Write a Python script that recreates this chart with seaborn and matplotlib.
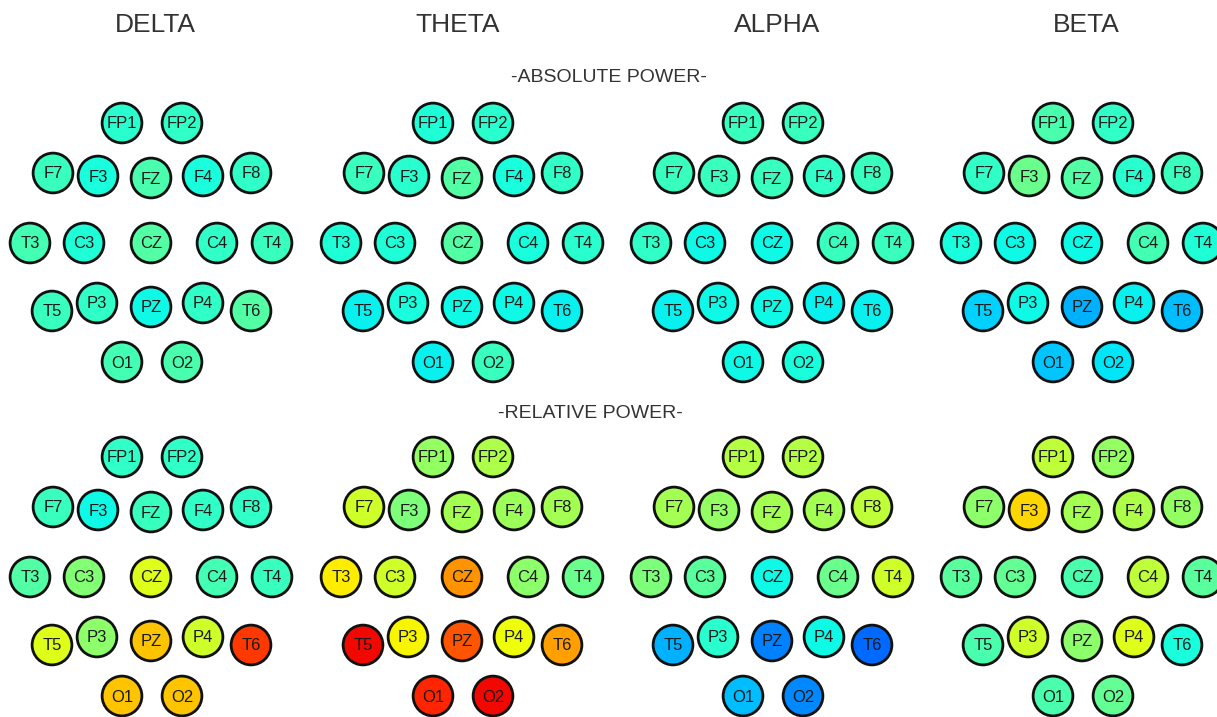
import numpy as np
import pandas as pd
import matplotlib
matplotlib.use('Agg')
import matplotlib.pyplot as plt
import seaborn as sns

# электроды системы 10-20
electrodes = ['FP1', 'FP2', 'F7', 'F3', 'FZ', 'F4', 'F8',
              'T3', 'C3', 'CZ', 'C4', 'T4',
              'T5', 'P3', 'PZ', 'P4', 'T6', 'O1', 'O2']

bands = ['DELTA', 'THETA', 'ALPHA', 'BETA']
power_types = ['-ABSOLUTE POWER-', '-RELATIVE POWER-']

# нормированная мощность (0..1), порядок как в electrodes
abs_delta = [0.40, 0.41, 0.42, 0.38, 0.44, 0.38, 0.41,
             0.43, 0.39, 0.45, 0.41, 0.42,
             0.42, 0.41, 0.37, 0.41, 0.45, 0.43, 0.44]
abs_theta = [0.39, 0.40, 0.42, 0.40, 0.45, 0.38, 0.41,
             0.39, 0.39, 0.45, 0.38, 0.40,
             0.36, 0.38, 0.37, 0.37, 0.36, 0.36, 0.42]
abs_alpha = [0.42, 0.42, 0.42, 0.42, 0.42, 0.41, 0.42,
             0.41, 0.37, 0.37, 0.42, 0.42,
             0.36, 0.37, 0.37, 0.36, 0.36, 0.37, 0.38]
abs_beta = [0.44, 0.41, 0.41, 0.48, 0.45, 0.40, 0.42,
            0.38, 0.37, 0.37, 0.43, 0.39,
            0.33, 0.37, 0.30, 0.36, 0.31, 0.32, 0.35]

rel_delta = [0.41, 0.41, 0.42, 0.37, 0.42, 0.41, 0.41,
             0.45, 0.51, 0.62, 0.43, 0.42,
             0.62, 0.52, 0.70, 0.60, 0.85, 0.70, 0.70]
rel_theta = [0.53, 0.56, 0.60, 0.50, 0.55, 0.54, 0.55,
             0.66, 0.60, 0.75, 0.52, 0.48,
             0.90, 0.65, 0.82, 0.64, 0.74, 0.87, 0.90]
rel_alpha = [0.57, 0.57, 0.55, 0.53, 0.55, 0.55, 0.58,
             0.50, 0.46, 0.37, 0.48, 0.60,
             0.30, 0.40, 0.25, 0.37, 0.23, 0.31, 0.26]
rel_beta = [0.58, 0.53, 0.52, 0.68, 0.55, 0.56, 0.53,
            0.46, 0.47, 0.44, 0.58, 0.46,
            0.44, 0.60, 0.52, 0.62, 0.38, 0.44, 0.47]

values = {
    ('-ABSOLUTE POWER-', 'DELTA'): abs_delta,
    ('-ABSOLUTE POWER-', 'THETA'): abs_theta,
    ('-ABSOLUTE POWER-', 'ALPHA'): abs_alpha,
    ('-ABSOLUTE POWER-', 'BETA'): abs_beta,
    ('-RELATIVE POWER-', 'DELTA'): rel_delta,
    ('-RELATIVE POWER-', 'THETA'): rel_theta,
    ('-RELATIVE POWER-', 'ALPHA'): rel_alpha,
    ('-RELATIVE POWER-', 'BETA'): rel_beta,
}

# раскладка электродов относительно CZ (пиксели)
montage = {
    'FP1': (-29, -120), 'FP2': (31, -120),
    'F7': (-98, -70), 'F3': (-53, -67), 'FZ': (0, -65), 'F4': (52, -67), 'F8': (100, -70),
    'T3': (-121, 0), 'C3': (-67, 0), 'CZ': (0, 0), 'C4': (66, 0), 'T4': (121, 0),
    'T5': (-99, 68), 'P3': (-54, 60), 'PZ': (0, 64), 'P4': (52, 60), 'T6': (100, 68),
    'O1': (-29, 119), 'O2': (31, 119),
}
col_x = {'DELTA': 151, 'THETA': 462, 'ALPHA': 772, 'BETA': 1082}
row_y = {'-ABSOLUTE POWER-': 243, '-RELATIVE POWER-': 577}

rows = []
for (ptype, band), vals in values.items():
    for el, v in zip(electrodes, vals):
        dx, dy = montage[el]
        rows.append({'power': ptype, 'band': band, 'electrode': el, 'value': v,
                     'x': col_x[band] + dx, 'y': row_y[ptype] + dy})
df = pd.DataFrame(rows)

fig = plt.figure(figsize=(12.17, 7.17), dpi=100)
ax = fig.add_axes([0, 0, 1, 1])

jet = matplotlib.colormaps['jet']
sns.scatterplot(data=df, x='x', y='y', hue='value', palette=jet, hue_norm=(0, 1),
                s=820, edgecolor='#111111', linewidth=2.0, legend=False, ax=ax)

lab_font = ['Liberation Sans', 'DejaVu Sans']
for _, r in df.iterrows():
    ax.text(r['x'], r['y'] + 1, r['electrode'], ha='center', va='center',
            fontsize=12, color='#1a1a1a', family=lab_font)

title_x = {'DELTA': 155, 'THETA': 458, 'ALPHA': 777, 'BETA': 1086}
for b in bands:
    ax.text(title_x[b], 25, b, ha='center', va='center', fontsize=19,
            color='#333333', family=lab_font)
ax.text(609, 77, power_types[0], ha='center', va='center', fontsize=14,
        color='#333333', family=lab_font)
ax.text(590, 413, power_types[1], ha='center', va='center', fontsize=14,
        color='#333333', family=lab_font)

ax.set_xlim(0, 1217)
ax.set_ylim(717, 0)
ax.axis('off')

fig.savefig('out.png', dpi=100, facecolor='white')
